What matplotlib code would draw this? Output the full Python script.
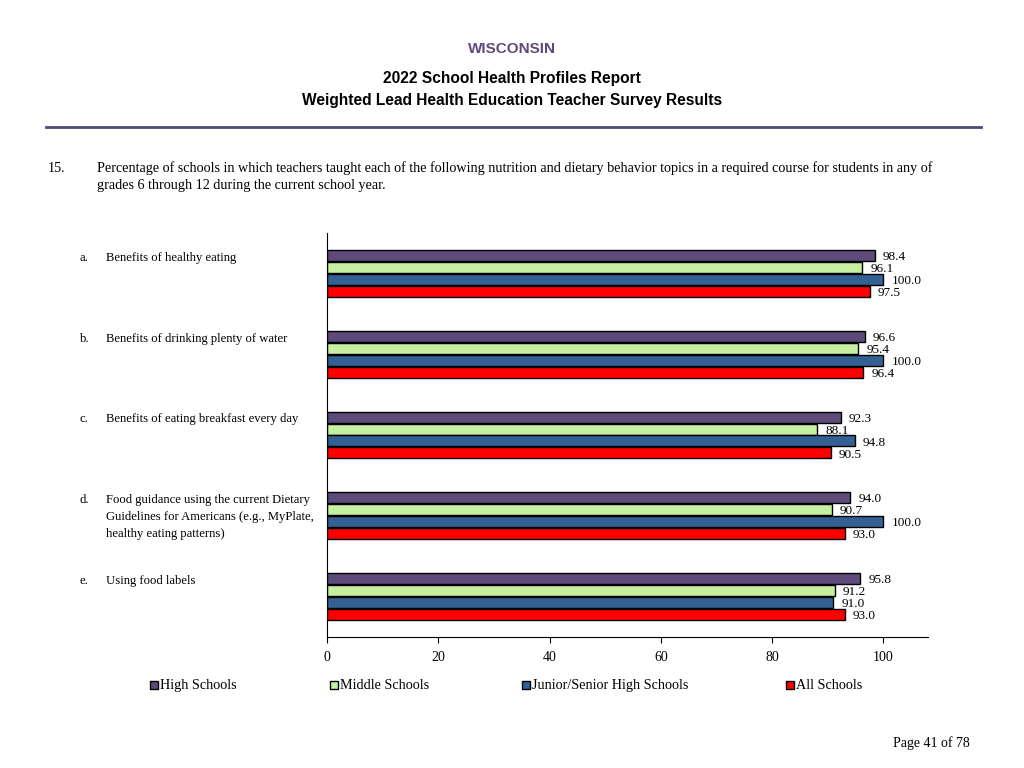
import numpy as np
import matplotlib.pyplot as plt
import matplotlib.transforms as mtransforms
from matplotlib.patches import Rectangle

# Datos del grafico
letras = ['a.', 'b.', 'c.', 'd.', 'e.']
temas = ['Benefits of healthy eating',
         'Benefits of drinking plenty of water',
         'Benefits of eating breakfast every day',
         'Food guidance using the current Dietary\nGuidelines for Americans (e.g., MyPlate,\nhealthy eating patterns)',
         'Using food labels']
series = ['High Schools', 'Middle Schools', 'Junior/Senior High Schools', 'All Schools']
high_schools = [98.4, 96.6, 92.3, 94.0, 95.8]
middle_schools = [96.1, 95.4, 88.1, 90.7, 91.2]
jr_sr_schools = [100.0, 100.0, 94.8, 100.0, 91.0]
all_schools = [97.5, 96.4, 90.5, 93.0, 93.0]
colores = ['#5E4B7B', '#C6EFA2', '#336193', '#FF0000']

plt.rcParams['font.family'] = ['Liberation Serif', 'DejaVu Serif']

fig = plt.figure(figsize=(10.24, 7.68), dpi=100)

# Encabezado
fig.text(0.5, 1 - 49 / 768, 'WISCONSIN', ha='center', va='center',
         family='Liberation Sans', weight='bold', fontsize=11, color='#5E4B7B')
fig.text(0.5, 1 - 78 / 768, '2022 School Health Profiles Report', ha='center', va='center',
         family='Liberation Sans', weight='bold', fontsize=11.2)
fig.text(0.5, 1 - 101 / 768, 'Weighted Lead Health Education Teacher Survey Results', ha='center',
         va='center', family='Liberation Sans', weight='bold', fontsize=11.2)
fig.add_artist(plt.Line2D([46 / 1024, 981 / 1024], [1 - 127 / 768, 1 - 127 / 768],
                          color='#4B4A7A', lw=2, transform=fig.transFigure))

# Pregunta
fig.text(48 / 1024, 1 - 168 / 768, '15.', va='center', fontsize=10.2)
fig.text(97 / 1024, 1 - 168 / 768,
         'Percentage of schools in which teachers taught each of the following nutrition and dietary behavior topics in a required course for students in any of',
         va='center', fontsize=10.2)
fig.text(97 / 1024, 1 - 186 / 768, 'grades 6 through 12 during the current school year.',
         va='center', fontsize=10.2)

ax = fig.add_axes([327 / 1024, 1 - 637 / 768, 601 / 1024, 404 / 768])

pos = np.arange(len(temas))[::-1]
h = 12 / 81
valores = [high_schools, middle_schools, jr_sr_schools, all_schools]
for i, (nombre, vals, c) in enumerate(zip(series, valores, colores)):
    y = pos + (1.5 - i) * h
    ax.barh(y, vals, height=h * 0.92, color=c, edgecolor='black', linewidth=1, label=nombre)
    for yy, v in zip(y, vals):
        ax.text(v + 1.5, yy - 0.02, '%.1f' % v, va='center', ha='left', fontsize=9.5)

ax.set_xlim(0, 108)
ax.set_ylim(-0.5, 4.5)
ax.set_xticks([0, 20, 40, 60, 80, 100])
ax.tick_params(axis='x', labelsize=10, length=4, pad=6)
ax.set_yticks([])
ax.spines['top'].set_visible(False)
ax.spines['right'].set_visible(False)

# Etiquetas de categoria
trans = mtransforms.blended_transform_factory(fig.transFigure, ax.transData)
for p, letra, tema in zip(pos, letras, temas):
    ax.text(80 / 1024, p + 2 * h - 0.03, letra, transform=trans, va='top', fontsize=9.1, clip_on=False)
    ax.text(106 / 1024, p + 2 * h - 0.03, tema, transform=trans, va='top', fontsize=9.1,
            linespacing=1.55, clip_on=False)

# Leyenda hecha a mano para que todas las entradas compartan la linea base
x_leyenda = [150, 330, 522, 786]
for nombre, c, xl in zip(series, colores, x_leyenda):
    fig.add_artist(Rectangle((xl / 1024, 1 - 689 / 768), 8 / 1024, 8 / 768, facecolor=c,
                             edgecolor='black', linewidth=1, transform=fig.transFigure))
    fig.text((xl + 10) / 1024, 1 - 689 / 768, nombre, va='baseline', ha='left', fontsize=10.2)

fig.text(970 / 1024, 1 - 743 / 768, 'Page 41 of 78', ha='right', va='center', fontsize=10)

fig.savefig('out.png', dpi=100)
